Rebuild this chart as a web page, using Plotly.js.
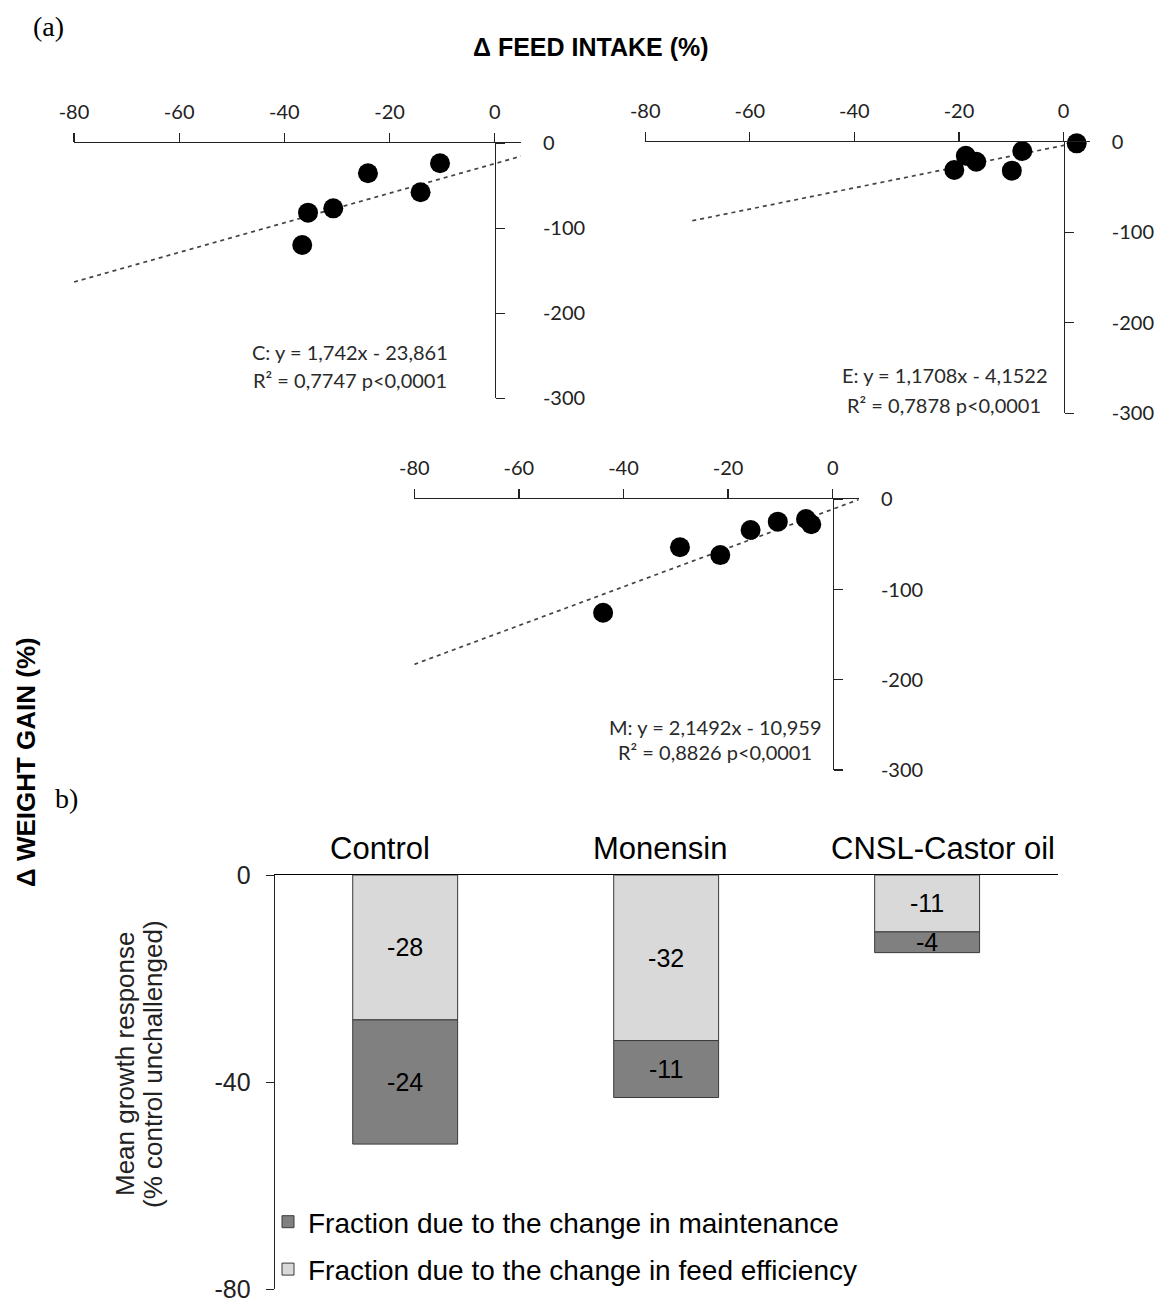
<!DOCTYPE html>
<html>
<head>
<meta charset="utf-8">
<script src="https://cdn.plot.ly/plotly-3.0.1.min.js"></script>
<style>html,body{margin:0;padding:0;background:#fff;}#chart{width:1158px;height:1302px;}</style>
</head>
<body>
<div id="chart"></div>
<script>
// ---- Data: panel (a) scatter, Δ feed intake (%) vs Δ weight gain (%) ----
const cFeed = [-10.4, -24.1, -14.1, -30.7, -35.5, -36.6];
const cGain = [-23.5, -35.3, -57.6, -76.5, -81.6, -119.6];
const cTrendX = [-80, 5];
const cTrendY = [-163.2, -15.2];
const cEq = ["C: y = 1,742x - 23,861", "R² = 0,7747 p<0,0001"];

const eFeed = [2.5, -7.9, -18.7, -16.7, -20.9, -9.9];
const eGain = [-1.8, -10.3, -15.5, -22.1, -31.3, -32.0];
const eTrendX = [-71, 3];
const eTrendY = [-87.3, -0.6];
const eEq = ["E: y = 1,1708x - 4,1522", "R² = 0,7878 p<0,0001"];

const mFeed = [-43.9, -29.2, -21.5, -15.7, -10.5, -5.1, -4.1];
const mGain = [-125.7, -53.2, -61.8, -34.0, -24.8, -21.8, -27.7];
const mTrendX = [-80, 5];
const mTrendY = [-182.9, -0.2];
const mEq = ["M: y = 2,1492x - 10,959", "R² = 0,8826 p<0,0001"];

const scatterXTicks = [-80, -60, -40, -20, 0];
const scatterYTicks = [0, -100, -200, -300];

// ---- Data: panel (b) stacked bars ----
const categories = ["Control", "Monensin", "CNSL-Castor oil"];
const feedEfficiency = [-28, -32, -11];
const maintenance = [-24, -11, -4];
const barYTicks = [0, -40, -80];

// ---- helpers (pixel -> paper) ----
const W = 1158, H = 1302;
const px = v => v / W;
const py = v => 1 - v / H;

const AX = "Lato, 'Open Sans', sans-serif";
const ARIAL = "Arial, 'Liberation Sans', sans-serif";

function scatterTraces(xs, ys, tx, ty, xa, ya) {
  return [
    {type: "scatter", mode: "lines", x: tx, y: ty, xaxis: xa, yaxis: ya,
     line: {color: "#444", width: 1.7, dash: "4px,4px"}, showlegend: false, hoverinfo: "skip", cliponaxis: false},
    {type: "scatter", mode: "markers", x: xs, y: ys, xaxis: xa, yaxis: ya,
     marker: {color: "#000", size: 20}, showlegend: false, cliponaxis: false}
  ];
}

const barText = {family: ARIAL, size: 25, color: "#000"};
const traces = [].concat(
  scatterTraces(cFeed, cGain, cTrendX, cTrendY, "x", "y"),
  scatterTraces(eFeed, eGain, eTrendX, eTrendY, "x2", "y2"),
  scatterTraces(mFeed, mGain, mTrendX, mTrendY, "x3", "y3"),
  [
    {type: "bar", name: "Fraction due to the change in feed efficiency", legendgroup: "fe", legendrank: 2,
     x: categories, y: feedEfficiency, xaxis: "x4", yaxis: "y4",
     text: feedEfficiency.map(String), textposition: "inside", insidetextanchor: "middle",
     textangle: 0, constraintext: "none", textfont: barText, insidetextfont: barText,
     marker: {color: "#d9d9d9", line: {color: "#3a3a3a", width: 1}}},
    {type: "bar", name: "Fraction due to the change in maintenance", legendgroup: "mt", legendrank: 1,
     x: categories, y: maintenance, xaxis: "x4", yaxis: "y4",
     text: maintenance.map(String), textposition: "inside", insidetextanchor: "middle",
     textangle: 0, constraintext: "none", textfont: barText, insidetextfont: barText,
     marker: {color: "#808080", line: {color: "#3a3a3a", width: 1}}}
  ]
);

const hyph = arr => arr.map(v => String(v));

function xAx(d0, d1, anchor) {
  return {domain: [px(d0), px(d1)], range: [-80, 5], anchor: anchor, side: "top",
    showline: true, linecolor: "#222", linewidth: 1.2, showgrid: false, zeroline: false,
    ticks: "outside", ticklen: 9, tickcolor: "#222", tickwidth: 1.2,
    tickmode: "array", tickvals: scatterXTicks, ticktext: hyph(scatterXTicks), ticklabelstandoff: 6,
    tickfont: {family: AX, size: 20, color: "#222"}};
}
function yAx(top, bottom, pos) {
  return {domain: [py(bottom), py(top)], range: [-300, 0], anchor: "free", position: px(pos), side: "right",
    showline: true, linecolor: "#222", linewidth: 1.2, showgrid: false, zeroline: false,
    ticks: "outside", ticklen: 9, tickcolor: "#222", tickwidth: 1.2,
    tickmode: "array", tickvals: scatterYTicks, ticktext: hyph(scatterYTicks), ticklabelstandoff: 34,
    tickfont: {family: AX, size: 20, color: "#222"}};
}

const eqFont = {family: AX, size: 20, color: "#2a2a2a"};
function ann(x, y, text, font, extra) {
  return Object.assign({xref: "paper", yref: "paper", x: px(x), y: py(y), text: text,
    showarrow: false, xanchor: "center", yanchor: "middle", font: font}, extra || {});
}

const catShift = [-25, -6, 16];

const annotations = [
  ann(48, 27, "(a)", {family: "'Liberation Serif', 'Times New Roman', serif", size: 28, color: "#000"}),
  ann(66, 798, "b)", {family: "'Liberation Serif', 'Times New Roman', serif", size: 28, color: "#000"}),
  ann(591, 47, "<b>Δ FEED INTAKE (%)</b>", {family: ARIAL, size: 25, color: "#000"}),
  ann(26, 762, "<b>Δ WEIGHT GAIN (%)</b>", {family: ARIAL, size: 26, color: "#000"}, {textangle: -90}),
  ann(350, 352, cEq[0], eqFont), ann(350, 380, cEq[1], eqFont),
  ann(945, 375, eEq[0], eqFont), ann(944, 405, eEq[1], eqFont),
  ann(715, 727, mEq[0], eqFont), ann(715, 752, mEq[1], eqFont),
  ann(125, 1064, "Mean growth response", {family: ARIAL, size: 26, color: "#222"}, {textangle: -90}),
  ann(153, 1064, "(% control unchallenged)", {family: ARIAL, size: 26, color: "#222"}, {textangle: -90})
].concat(categories.map((c, i) => ({
  xref: "x4", yref: "paper", x: c, y: py(848), xshift: catShift[i], text: c, showarrow: false,
  xanchor: "center", yanchor: "middle", font: {family: ARIAL, size: 31, color: "#000"}
})));

const layout = {
  width: W, height: H, margin: {l: 0, r: 0, t: 0, b: 0},
  paper_bgcolor: "#fff", plot_bgcolor: "rgba(0,0,0,0)",
  barmode: "relative", bargap: 0.598,
  hovermode: false,
  xaxis: xAx(74, 521, "y"),
  yaxis: yAx(143.3, 398.3, 494.7),
  xaxis2: xAx(645.2, 1089.75, "y2"),
  yaxis2: yAx(141.7, 413.3, 1063.6),
  xaxis3: xAx(414.3, 858.85, "y3"),
  yaxis3: yAx(499.3, 770, 832.7),
  xaxis4: {domain: [px(274.7), px(1057.6)], type: "category", categoryarray: categories, anchor: "y4", side: "top",
    showline: true, linecolor: "#000", linewidth: 1.5, showgrid: false, zeroline: false,
    ticks: "", showticklabels: false},
  yaxis4: {domain: [py(1289), py(875)], range: [-80, 0], anchor: "x4", side: "left",
    showline: true, linecolor: "#222", linewidth: 1, showgrid: false, zeroline: false,
    ticks: "outside", ticklen: 8, tickcolor: "#222", ticklabeloverflow: "allow",
    tickmode: "array", tickvals: barYTicks, ticktext: hyph(barYTicks), ticklabelstandoff: 10,
    tickfont: {family: ARIAL, size: 25, color: "#222"}},
  showlegend: true,
  legend: {x: px(268), y: py(1197), xanchor: "left", yanchor: "top", traceorder: "grouped",
    tracegroupgap: 8, itemwidth: 30, bgcolor: "rgba(0,0,0,0)",
    font: {family: ARIAL, size: 28, color: "#000"}},
  annotations: annotations
};

Plotly.newPlot("chart", traces, layout, {staticPlot: true, displayModeBar: false});
</script>
</body>
</html>
